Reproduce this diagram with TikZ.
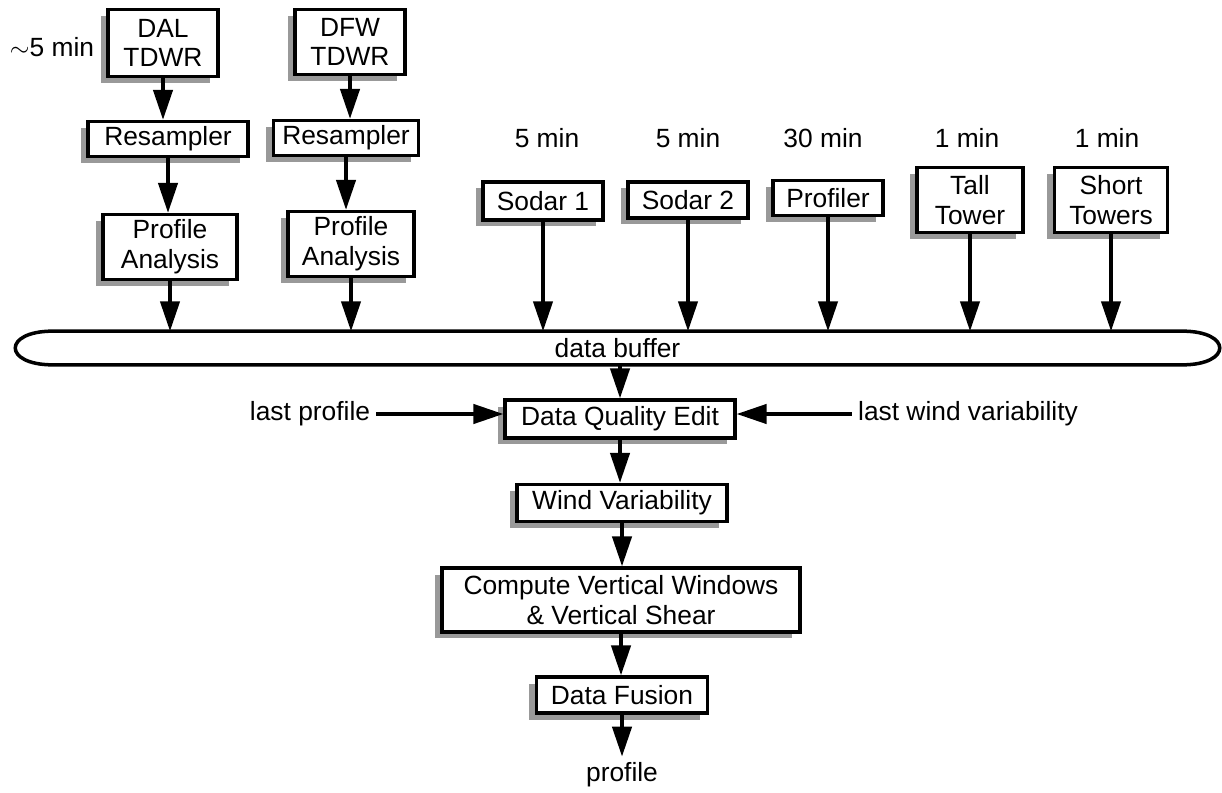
\documentclass[tikz,border=0pt]{standalone}
\usepackage{fontspec}
\setmainfont{Liberation Sans}
\usetikzlibrary{arrows.meta,shadows,backgrounds}

\begin{document}
\begin{tikzpicture}[x=0.02cm, y=-0.02cm, font=\fontsize{15}{17}\selectfont,
  box/.style={draw, line width=2pt, fill=white, align=center, inner sep=1pt,
    drop shadow={shadow xshift=-1.5mm, shadow yshift=-1.3mm, fill=black!40, opacity=1}},
  flow/.style={line width=1.9pt, -{Triangle[length=17pt, width=11pt]}}]
  \useasboundingbox (0,0) rectangle (1222,793);
  % TDWR branches
  \node [box, minimum width=2.2cm, minimum height=1.34cm] (dal) at (163,43) {DAL\\TDWR};
  \node [box, minimum width=2.2cm, minimum height=1.3cm] (dfw) at (350,42) {DFW\\TDWR};
  \node (dalt) at (52,47) {$\sim$5 min};
  \node [box, minimum width=3.2cm, minimum height=0.7cm] (res1) at (168,139) {Resampler};
  \node [box, minimum width=2.9cm, minimum height=0.7cm] (res2) at (346,138) {Resampler};
  \node [box, minimum width=2.68cm, minimum height=1.3cm] (pa1) at (170,247) {Profile\\Analysis};
  \node [box, minimum width=2.52cm, minimum height=1.3cm] (pa2) at (351,244) {Profile\\Analysis};
  % sensors
  \node [box, minimum width=2.4cm, minimum height=0.76cm] (sod1) at (543,201) {Sodar 1};
  \node [box, minimum width=2.4cm, minimum height=0.72cm] (sod2) at (688,200) {Sodar 2};
  \node [box, minimum width=2.2cm, minimum height=0.7cm] (prof) at (828,198) {Profiler};
  \node [box, minimum width=2.12cm, minimum height=1.3cm] (tall) at (970,200) {Tall\\Tower};
  \node [box, minimum width=2.26cm, minimum height=1.3cm] (short) at (1111,200) {Short\\Towers};
  \node (sod1t) at (547,138) {5 min};
  \node (sod2t) at (688,138) {5 min};
  \node (proft) at (823,138) {30 min};
  \node (tallt) at (967,138) {1 min};
  \node (shortt) at (1107,138) {1 min};
  % data buffer
  \node [minimum width=22.58cm, minimum height=0.66cm, inner sep=0] (buf) at (617.5,348) {data buffer};
  \begin{scope}[on background layer]
    \fill [black!40, xshift=-1.5mm, yshift=-1.3mm] (buf.north west) -- (buf.north east)
      .. controls +(50,0) and +(50,0) .. (buf.south east) -- (buf.south west)
      .. controls +(-50,0) and +(-50,0) .. cycle;
    \draw [line width=2pt, fill=white] (buf.north west) -- (buf.north east)
      .. controls +(50,0) and +(50,0) .. (buf.south east) -- (buf.south west)
      .. controls +(-50,0) and +(-50,0) .. cycle;
  \end{scope}
  % processing chain
  \node [box, minimum width=4.6cm, minimum height=0.76cm] (dqe) at (620,419) {Data Quality Edit};
  \node (lastp) at (310,414) {last profile};
  \node (lastw) at (968,414) {last wind variability};
  \node [box, minimum width=4.2cm, minimum height=0.74cm] (wv) at (622,503) {Wind Variability};
  \node [box, minimum width=7.16cm, minimum height=1.28cm] (cvw) at (621,600) {Compute Vertical Windows\\\& Vertical Shear};
  \node [box, minimum width=3.42cm, minimum height=0.72cm] (fus) at (622,695) {Data Fusion};
  \node (out) at (622,775) {profile};
  % connectors
  \draw [flow] (dal) -- (dal |- res1.north);
  \draw [flow] (dfw) -- (dfw |- res2.north);
  \draw [flow] (res1) -- (res1 |- pa1.north);
  \draw [flow] (res2) -- (res2 |- pa2.north);
  \draw [flow] (pa1) -- (pa1 |- buf.north);
  \draw [flow] (pa2) -- (pa2 |- buf.north);
  \draw [flow] (sod1) -- (sod1 |- buf.north);
  \draw [flow] (sod2) -- (sod2 |- buf.north);
  \draw [flow] (prof) -- (prof |- buf.north);
  \draw [flow] (tall) -- (tall |- buf.north);
  \draw [flow] (short) -- (short |- buf.north);
  \draw [flow] (buf.south -| dqe) -- (dqe);
  \draw [flow] (lastp) -- (lastp -| dqe.west);
  \draw [flow] (lastw) -- (lastw -| dqe.east);
  \draw [flow] (dqe) -- (dqe |- wv.north);
  \draw [flow] (wv) -- (wv |- cvw.north);
  \draw [flow] (cvw) -- (cvw |- fus.north);
  \draw [flow] (fus) -- (out);
\end{tikzpicture}
\end{document}
